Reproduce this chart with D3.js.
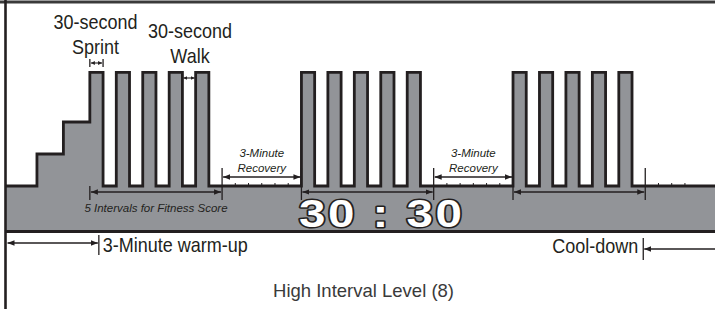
<!DOCTYPE html>
<html>
<head>
<meta charset="utf-8">
<script src="https://cdn.jsdelivr.net/npm/d3@7"></script>
<style>
body{margin:0;background:#fff;}
svg{display:block;}
text{font-family:"Liberation Sans",Arial,sans-serif;fill:#231f20;}
</style>
</head>
<body>
<svg id="chart" width="715" height="309"></svg>
<script>
// workout plan, minutes
var phaseNames = ["warm-up","intervals","recovery","intervals","recovery","intervals","cool-down"];
var phaseMinutes = [3, 5, 3, 5, 3, 5, 3];
var warmupLevels = [0, 1, 2];      // one level per warm-up minute
var sprintLevel = 3.55;
var restLevel = 0;
var sprintMinutes = 0.5, walkMinutes = 0.5;

// texts
var sprintNote = ["30-second","Sprint"];
var walkNote = ["30-second","Walk"];
var recoveryNote = ["3-Minute","Recovery"];
var groupNote = "5 Intervals for Fitness Score";
var clockText = "30 : 30";
var warmupNote = "3-Minute warm-up";
var cooldownNote = "Cool-down";
var title = "High Interval Level (8)";

var W = 715, H = 309;
var dark = "#231f20", gray = "#929498";
var leftEdge = 5.5, bandBottom = 230;

var svg = d3.select("#chart");

var x = d3.scaleLinear().domain([0, 27]).range([10.5, 724.6]);
var y = d3.scaleLinear().domain([0, 1]).range([186, 154]);

var starts = [], acc = 0;
phaseMinutes.forEach(function(m){ starts.push(acc); acc += m; });

// profile points, step-after
var pts = [{t: x.invert(leftEdge), v: warmupLevels[0]}];
warmupLevels.forEach(function(v,i){ if(i>0) pts.push({t:i, v:v}); });
phaseNames.forEach(function(p,i){
    if(p!=="intervals") return;
    var n = phaseMinutes[i]/(sprintMinutes+walkMinutes);
    for(var k=0;k<n;k++){
        var t = starts[i] + k*(sprintMinutes+walkMinutes);
        pts.push({t:t, v:sprintLevel});
        pts.push({t:t+sprintMinutes, v:restLevel});
    }
});
pts.push({t:acc, v:restLevel});

var defs = svg.append("defs");
function marker(id, len, wid){
    defs.append("marker")
        .attr("id",id)
        .attr("markerUnits","userSpaceOnUse")
        .attr("markerWidth",len).attr("markerHeight",wid)
        .attr("refX",len).attr("refY",wid/2)
        .attr("orient","auto-start-reverse")
        .append("path")
        .attr("d","M0,0L"+len+","+(wid/2)+"L0,"+wid+"Z")
        .attr("fill",dark);
}
marker("big",7,5.5);
marker("small",4,4);

// gray band + bars
svg.append("path").datum(pts)
    .attr("d", d3.area().curve(d3.curveStepAfter)
        .x(function(d){ return x(d.t); })
        .y0(bandBottom)
        .y1(function(d){ return y(d.v); }))
    .attr("fill",gray);

svg.append("path").datum(pts)
    .attr("d", d3.line().curve(d3.curveStepAfter)
        .x(function(d){ return x(d.t); })
        .y(function(d){ return y(d.v); }))
    .attr("fill","none")
    .attr("stroke",dark)
    .attr("stroke-width",2.8)
    .attr("stroke-linejoin","miter");

// frame
svg.append("line").attr("x1",0).attr("x2",W).attr("y1",2).attr("y2",2)
    .attr("stroke","#3a3a3a").attr("stroke-width",3);
svg.append("line").attr("x1",leftEdge).attr("x2",leftEdge).attr("y1",0).attr("y2",H)
    .attr("stroke",dark).attr("stroke-width",2.6);
svg.append("line").attr("x1",leftEdge).attr("x2",W).attr("y1",bandBottom+1.5).attr("y2",bandBottom+1.5)
    .attr("stroke",dark).attr("stroke-width",3);

// 30 second ticks along the rest baseline
phaseNames.forEach(function(p,i){
    if(p!=="recovery" && p!=="cool-down") return;
    var end = p==="cool-down" ? 26 : starts[i]+phaseMinutes[i];
    for(var t=starts[i]+0.5;t<end-0.01;t+=0.5){
        svg.append("line").attr("x1",x(t)).attr("x2",x(t))
            .attr("y1",y(restLevel)).attr("y2",y(restLevel)-3)
            .attr("stroke",dark).attr("stroke-width",1);
    }
});

function vtick(xx,y1,y2,w){
    svg.append("line").attr("x1",xx).attr("x2",xx).attr("y1",y1).attr("y2",y2)
        .attr("stroke",dark).attr("stroke-width",w||1.3);
}
function arrow(x1,x2,yy,m,both,w){
    var l = svg.append("line").attr("x1",x1).attr("x2",x2).attr("y1",yy).attr("y2",yy)
        .attr("stroke",dark).attr("stroke-width",w||1.4)
        .attr("marker-end","url(#"+m+")");
    if(both) l.attr("marker-start","url(#"+m+")");
}
function label(xx,yy,txt,o){
    o = o||{};
    var g = svg.append("g").attr("transform","translate("+xx+","+yy+") scale("+(o.sx||1)+",1)");
    return g.append("text")
        .attr("text-anchor",o.anchor||"middle")
        .style("font-size",(o.size||20)+"px")
        .style("font-style",o.italic?"italic":"normal")
        .text(txt);
}

// sprint / walk widths
var t0 = starts[1];
vtick(x(t0),59,67); vtick(x(t0+sprintMinutes),59,67);
arrow(x(t0)+1,x(t0+sprintMinutes)-1,63,"small",true,1.1);
var tw = t0+3*(sprintMinutes+walkMinutes)+sprintMinutes;
vtick(x(tw),74,82); vtick(x(tw+walkMinutes),74,82);
arrow(x(tw)+1,x(tw+walkMinutes)-1,78,"small",true,1.1);

sprintNote.forEach(function(s,i){ label(x(t0+0.25)-1,29+i*25,s,{sx:0.9}); });
walkNote.forEach(function(s,i){ label(x(tw+0.25)+1,38+i*25,s,{sx:0.9}); });

// block and recovery spans
phaseNames.forEach(function(p,i){
    var a = starts[i], b = starts[i]+phaseMinutes[i];
    if(p==="intervals"){
        vtick(x(a), i===1 ? 186 : 168, 200);
        vtick(x(b),168,200);
        arrow(x(a)+1,x(b)-1,192,"big",true);
    }
    if(p==="recovery"){
        arrow(x(a)+1,x(b)-1,177,"big",true);
        recoveryNote.forEach(function(s,k){
            label(x((a+b)/2),157+k*15,s,{size:11.5,italic:true});
        });
    }
});
label(x(starts[1]+phaseMinutes[1]/2),212,groupNote,{size:11.5,italic:true});

// clock
label(x(14)+1,227,clockText,{size:38,sx:1.25})
    .style("font-weight","bold")
    .style("letter-spacing","2px")
    .style("fill","#fff")
    .attr("stroke",dark)
    .attr("stroke-width",3)
    .attr("paint-order","stroke")
    .attr("stroke-linejoin","round");

// warm-up / cool-down
var wEnd = x(starts[1])+9;
vtick(wEnd,235,255);
arrow(leftEdge+2,wEnd-1,243,"big",true);
label(wEnd+4,252,warmupNote,{sx:0.9,anchor:"start"});

var cStart = x(starts[6])-2;
vtick(cStart,238,260);
arrow(W,cStart+1,249,"big",false);
label(cStart-5,253,cooldownNote,{sx:0.9,anchor:"end"});

label(363.5,297,title,{size:18.5}).style("fill","#3a3a3a");
</script>
</body>
</html>
